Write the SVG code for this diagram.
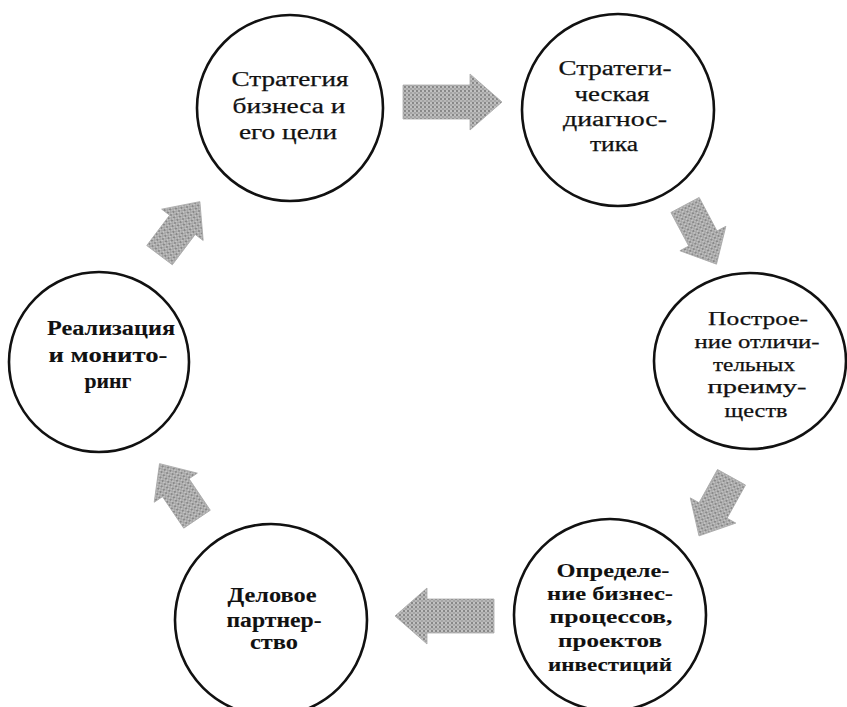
<svg xmlns="http://www.w3.org/2000/svg" width="847" height="707" viewBox="0 0 847 707">
<defs>
<pattern id="stip" width="4" height="4" patternUnits="userSpaceOnUse">
<rect width="4" height="4" fill="#b8b8b8"/>
<circle cx="1" cy="1" r="0.9" fill="#727272"/>
<circle cx="3" cy="3" r="0.8" fill="#8e8e8e"/>
<circle cx="3" cy="1" r="0.6" fill="#e4e4e4"/>
</pattern>
<path id="bigArrow" d="M-49,-17 L18,-17 L18,-28 L50,0 L18,28 L18,17 L-49,17 Z"/>
<path id="smallArrow" d="M-34,-16 L4,-16 L4,-26 L33,0 L4,26 L4,16 L-34,16 Z"/>
</defs>
<style>
.node circle{fill:#fff;stroke:#111;stroke-width:2.6}
.node text{font-family:"Liberation Serif","Times New Roman",serif;fill:#111;text-anchor:middle;stroke:#111;stroke-width:0.25}
.b text{font-weight:bold;stroke-width:0.1}
.arrow{fill:url(#stip);stroke:#a8a8a8;stroke-width:0.8}
</style>
<rect width="847" height="707" fill="#fff"/>
<g id="connectors">
<use href="#bigArrow" class="arrow" transform="translate(452,102)"/>
<use href="#smallArrow" class="arrow" transform="translate(701,235) rotate(62)"/>
<use href="#smallArrow" class="arrow" transform="translate(715,507) rotate(119)"/>
<use href="#bigArrow" class="arrow" transform="translate(445,616) rotate(180)"/>
<use href="#smallArrow" class="arrow" transform="translate(178,491) rotate(236)"/>
<use href="#smallArrow" class="arrow" transform="translate(180,228) rotate(-53)"/>
</g>
<g id="n1" class="node">
<circle cx="290" cy="108" r="93"/>
<text font-size="20"><tspan x="290" y="86" textLength="117" lengthAdjust="spacingAndGlyphs">Стратегия</tspan><tspan x="289" y="113" textLength="113" lengthAdjust="spacingAndGlyphs">бизнеса и</tspan><tspan x="288" y="139" textLength="98" lengthAdjust="spacingAndGlyphs">его цели</tspan></text>
</g>
<g id="n2" class="node">
<circle cx="618" cy="110" r="96"/>
<text font-size="20"><tspan x="615" y="75" textLength="113" lengthAdjust="spacingAndGlyphs">Стратеги-</tspan><tspan x="612" y="101" textLength="75" lengthAdjust="spacingAndGlyphs">ческая</tspan><tspan x="615" y="126" textLength="104" lengthAdjust="spacingAndGlyphs">диагнос-</tspan><tspan x="614" y="151" textLength="48" lengthAdjust="spacingAndGlyphs">тика</tspan></text>
</g>
<g id="n3" class="node">
<ellipse cx="750" cy="361" rx="96" ry="88" fill="#fff" stroke="#111" stroke-width="2.6"/>
<text font-size="18"><tspan x="758" y="325" textLength="100" lengthAdjust="spacingAndGlyphs">Построе-</tspan><tspan x="757" y="348" textLength="125" lengthAdjust="spacingAndGlyphs">ние отличи-</tspan><tspan x="754" y="371" textLength="82" lengthAdjust="spacingAndGlyphs">тельных</tspan><tspan x="757" y="393" textLength="99" lengthAdjust="spacingAndGlyphs">преиму-</tspan><tspan x="756" y="417" textLength="63" lengthAdjust="spacingAndGlyphs">ществ</tspan></text>
</g>
<g id="n4" class="node b">
<circle cx="610" cy="615" r="96"/>
<text font-size="18"><tspan x="613" y="577" textLength="113" lengthAdjust="spacingAndGlyphs">Определе-</tspan><tspan x="610" y="600" textLength="126" lengthAdjust="spacingAndGlyphs">ние бизнес-</tspan><tspan x="611" y="623" textLength="123" lengthAdjust="spacingAndGlyphs">процессов,</tspan><tspan x="610" y="647" textLength="104" lengthAdjust="spacingAndGlyphs">проектов</tspan><tspan x="610" y="671" textLength="124" lengthAdjust="spacingAndGlyphs">инвестиций</tspan></text>
</g>
<g id="n5" class="node b">
<circle cx="271" cy="620" r="96"/>
<text font-size="20"><tspan x="272" y="602" textLength="89" lengthAdjust="spacingAndGlyphs">Деловое</tspan><tspan x="274" y="627" textLength="95" lengthAdjust="spacingAndGlyphs">партнер-</tspan><tspan x="274" y="649" textLength="48" lengthAdjust="spacingAndGlyphs">ство</tspan></text>
</g>
<g id="n6" class="node b">
<circle cx="99" cy="362" r="90"/>
<text font-size="20"><tspan x="111" y="335" textLength="128" lengthAdjust="spacingAndGlyphs">Реализация</tspan><tspan x="108" y="362" textLength="119" lengthAdjust="spacingAndGlyphs">и монито-</tspan><tspan x="108" y="388" textLength="47" lengthAdjust="spacingAndGlyphs">ринг</tspan></text>
</g>
</svg>
